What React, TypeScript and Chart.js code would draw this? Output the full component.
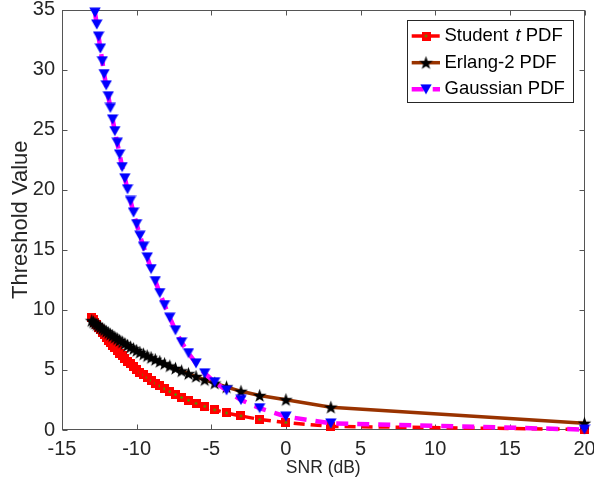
import React, { useEffect, useRef } from "react";
import { Chart, registerables } from "chart.js";

Chart.register(...registerables);

// SNR in dB (x positions of every marker)
const snrDb = [
  -13.01, -12.9, -12.79, -12.67, -12.55, -12.43, -12.3, -12.18, -12.04, -11.9,
  -11.76, -11.61, -11.46, -11.3, -11.14, -10.97, -10.79, -10.61, -10.41, -10.21,
  -10.0, -9.78, -9.54, -9.29, -9.03, -8.75, -8.45, -8.13, -7.78, -7.4,
  -6.99, -6.53, -6.02, -5.44, -4.77, -3.98, -3.01, -1.76, 0, 3.01, 20,
];

const studentT = [
  9.4, 9.19, 8.98, 8.77, 8.56, 8.34, 8.13, 7.91, 7.7, 7.48,
  7.26, 7.05, 6.83, 6.61, 6.39, 6.17, 5.95, 5.72, 5.5, 5.27,
  5.05, 4.82, 4.59, 4.36, 4.13, 3.9, 3.67, 3.43, 3.19, 2.95,
  2.71, 2.47, 2.22, 1.97, 1.68, 1.42, 1.17, 0.88, 0.62, 0.3, 0.05,
];

const erlang2 = [
  9.1, 8.99, 8.88, 8.77, 8.66, 8.55, 8.43, 8.32, 8.2, 8.08,
  7.96, 7.84, 7.71, 7.58, 7.45, 7.32, 7.18, 7.04, 6.9, 6.76,
  6.61, 6.46, 6.32, 6.17, 6.02, 5.86, 5.7, 5.52, 5.33, 5.13,
  4.92, 4.69, 4.45, 4.18, 3.9, 3.58, 3.22, 2.87, 2.52, 1.89, 0.56,
];

const gaussian: (number | null)[] = [
  null, null, 34.74, 33.75, 32.75, 31.75, 30.7, 29.63, 28.69, 27.78,
  26.81, 25.85, 24.88, 23.91, 22.94, 21.89, 20.95, 20.04, 19.07, 18.1,
  17.14, 16.17, 15.26, 14.37, 13.4, 12.4, 11.4, 10.4, 9.35, 8.3,
  7.3, 6.4, 5.55, 4.72, 3.98, 3.3, 2.5, 1.82, 1.12, 0.55, 0.04,
];

const seriesNames = ["Student t PDF", "Erlang-2 PDF", "Gaussian PDF"];
const xTickValues = [-15, -10, -5, 0, 5, 10, 15, 20];
const yTickValues = [0, 5, 10, 15, 20, 25, 30, 35];

const FONT = "'Liberation Sans', Arial, Helvetica, sans-serif";
const AXIS_COLOR = "#262626";

function makeCanvas(w: number, h: number) {
  const c = document.createElement("canvas");
  c.width = w;
  c.height = h;
  return c;
}

function squareMarker() {
  const c = makeCanvas(9, 9);
  const g = c.getContext("2d")!;
  g.fillStyle = "#ff0000";
  g.fillRect(0, 0, 9, 9);
  g.fillStyle = "#00d800";
  g.fillRect(3.5, 3.5, 2, 2);
  return c;
}

function starMarker() {
  const c = makeCanvas(15, 15);
  const g = c.getContext("2d")!;
  const cx = 7.5, cy = 8, R = 7.2, r = 2.9;
  g.beginPath();
  for (let k = 0; k < 10; k++) {
    const ang = -Math.PI / 2 + (k * Math.PI) / 5;
    const rad = k % 2 === 0 ? R : r;
    const px = cx + rad * Math.cos(ang);
    const py = cy + rad * Math.sin(ang);
    if (k === 0) g.moveTo(px, py);
    else g.lineTo(px, py);
  }
  g.closePath();
  g.fillStyle = "#000000";
  g.fill();
  return c;
}

function triangleMarker() {
  const c = makeCanvas(12, 11);
  const g = c.getContext("2d")!;
  g.beginPath();
  g.moveTo(0.3, 0.5);
  g.lineTo(11.7, 0.5);
  g.lineTo(6, 10.5);
  g.closePath();
  g.fillStyle = "#0000ff";
  g.fill();
  return c;
}

export default function App() {
  const ref = useRef<HTMLCanvasElement>(null);

  useEffect(() => {
    document.body.style.margin = "0";
    const sq = squareMarker();
    const st = starMarker();
    const tr = triangleMarker();

    const styles = [
      { color: "#ff0000", width: 3.5, dash: [11, 6], marker: sq },
      { color: "#993300", width: 3.5, dash: [] as number[], marker: st },
      { color: "#ff00ff", width: 4.5, dash: [12, 9], marker: tr },
    ];

    const axesPlugin = {
      id: "matlabAxes",
      beforeDatasetsDraw(chart: any) {
        const { ctx, chartArea } = chart;
        const { left, right, top, bottom } = chartArea;
        const xs = chart.scales.x;
        const ys = chart.scales.y;
        ctx.save();
        ctx.strokeStyle = "#555555";
        ctx.lineWidth = 1;
        const L = Math.round(left) + 0.5;
        const R = Math.round(right) - 0.5;
        const T = Math.round(top) + 0.5;
        const B = Math.round(bottom) - 0.5;
        ctx.strokeRect(L, T, R - L, B - T);
        ctx.beginPath();
        xTickValues.forEach((v) => {
          const px = Math.round(xs.getPixelForValue(v)) + 0.5;
          ctx.moveTo(px, B);
          ctx.lineTo(px, B - 5);
          ctx.moveTo(px, T);
          ctx.lineTo(px, T + 5);
        });
        yTickValues.forEach((v) => {
          const py = Math.round(ys.getPixelForValue(v)) + 0.5;
          ctx.moveTo(L, py);
          ctx.lineTo(L + 5, py);
          ctx.moveTo(R, py);
          ctx.lineTo(R - 5, py);
        });
        ctx.stroke();
        ctx.restore();
      },
      afterDraw(chart: any) {
        const ctx = chart.ctx;
        ctx.save();
        const bx = 407.5, by = 20.5, bw = 166, bh = 82;
        ctx.fillStyle = "#ffffff";
        ctx.fillRect(bx, by, bw, bh);
        ctx.strokeStyle = AXIS_COLOR;
        ctx.lineWidth = 1;
        ctx.strokeRect(bx, by, bw, bh);
        const rows = [36, 62.7, 89.3];
        styles.forEach((s, i) => {
          const yy = rows[i];
          ctx.setLineDash(s.dash);
          ctx.strokeStyle = s.color;
          ctx.lineWidth = s.width;
          ctx.beginPath();
          ctx.moveTo(411.7, yy);
          ctx.lineTo(440, yy);
          ctx.stroke();
          ctx.setLineDash([]);
          ctx.drawImage(s.marker, 426 - s.marker.width / 2, yy - s.marker.height / 2);
          ctx.fillStyle = "#000000";
          ctx.textBaseline = "middle";
          ctx.textAlign = "left";
          const name = seriesNames[i];
          let tx = 444.5;
          const size = 18.5;
          if (name.indexOf(" t ") >= 0) {
            const [a, b] = name.split(" t ");
            ctx.font = `${size}px ${FONT}`;
            ctx.fillText(a + " ", tx, yy);
            tx += ctx.measureText(a + " ").width + 2;
            ctx.font = `italic ${size}px ${FONT}`;
            ctx.fillText("t", tx, yy);
            tx += ctx.measureText("t").width;
            ctx.font = `${size}px ${FONT}`;
            ctx.fillText(" " + b, tx, yy);
          } else {
            ctx.font = `${size}px ${FONT}`;
            ctx.fillText(name, tx, yy);
          }
        });
        ctx.restore();
      },
    };

    const series = [studentT, erlang2, gaussian];
    const orders = [3, 2, 1];
    const datasets = series.map((vals, i) => ({
      label: seriesNames[i],
      data: snrDb.map((x, k) => ({ x, y: vals[k] })),
      showLine: true,
      borderColor: styles[i].color,
      backgroundColor: styles[i].color,
      borderWidth: styles[i].width,
      borderDash: styles[i].dash,
      pointStyle: styles[i].marker,
      pointRadius: 5,
      pointHoverRadius: 5,
      clip: false,
      order: orders[i],
      tension: 0,
    }));

    const chart = new Chart(ref.current!, {
      type: "scatter",
      data: { datasets: datasets as any },
      options: {
        responsive: false,
        animation: false,
        devicePixelRatio: 1,
        events: [],
        layout: { padding: { left: 0, top: 8, right: 7, bottom: 0 } },
        plugins: { legend: { display: false }, tooltip: { enabled: false } },
        scales: {
          x: {
            type: "linear",
            min: -15,
            max: 20,
            afterBuildTicks: (s: any) => {
              s.ticks = xTickValues.map((v) => ({ value: v }));
            },
            ticks: {
              color: AXIS_COLOR,
              font: { family: FONT, size: 20 },
              padding: 7,
              maxRotation: 0,
              autoSkip: false,
              callback: (v: any) => String(v),
            },
            grid: { display: false, drawTicks: false },
            border: { display: false },
            title: {
              display: true,
              text: "SNR (dB)",
              color: AXIS_COLOR,
              font: { family: FONT, size: 17.5 },
              padding: { top: 0, bottom: 8 },
            },
            afterFit: (s: any) => {
              s.height = 57;
              s.paddingLeft = 0;
              s.paddingRight = 0;
            },
          },
          y: {
            type: "linear",
            min: 0,
            max: 35,
            afterBuildTicks: (s: any) => {
              s.ticks = yTickValues.map((v) => ({ value: v }));
            },
            ticks: {
              color: AXIS_COLOR,
              font: { family: FONT, size: 20 },
              padding: 7,
              autoSkip: false,
              callback: (v: any) => String(v),
            },
            grid: { display: false, drawTicks: false },
            border: { display: false },
            title: {
              display: true,
              text: "Threshold Value",
              color: AXIS_COLOR,
              font: { family: FONT, size: 22 },
              padding: { top: 8, bottom: 0 },
            },
            afterFit: (s: any) => {
              s.width = 62;
              s.paddingTop = 0;
              s.paddingBottom = 0;
            },
          },
        },
      },
      plugins: [axesPlugin],
    });

    return () => chart.destroy();
  }, []);

  return <canvas ref={ref} width={594} height={487} style={{ display: "block" }} />;
}
